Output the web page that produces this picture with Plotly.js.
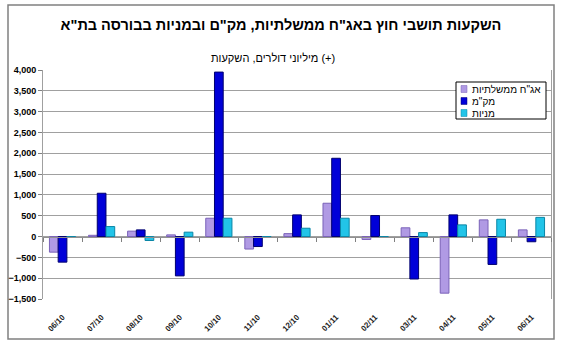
<!DOCTYPE html>
<html>
<head>
<meta charset="utf-8">
<script src="https://cdn.plot.ly/plotly-3.0.1.min.js"></script>
<style>html,body{margin:0;padding:0;background:#fff;}#chart{width:563px;height:357px;}</style>
</head>
<body>
<div id="chart"></div>
<script>
var categories = ['06/10','07/10','08/10','09/10','10/10','11/10','12/10','01/11','02/11','03/11','04/11','05/11','06/11'];
var govBonds = [-375, 30, 130, 40, 440, -300, 70, 800, -70, 210, -1360, 400, 160];
var makam = [-615, 1040, 160, -945, 3950, -240, 520, 1880, 505, -1020, 520, -670, -125];
var stocks = [-20, 240, -95, 105, 440, -15, 200, 440, -10, 95, 280, 415, 460];
var seriesNames = ['אג"ח ממשלתיות', 'מק"מ', 'מניות'];
var seriesColors = ['#B09AE4', '#0000D8', '#22C4E8'];
var seriesEdges = ['#7A62B8', '#00006E', '#0A86A6'];
var yTickVals = [-1500,-1000,-500,0,500,1000,1500,2000,2500,3000,3500,4000];

var W = 563, H = 357, L = 43, R = 12, T = 70, B = 58;
var pw = W - L - R, ph = H - T - B;
function px(x){ return (x - L) / pw; }
function py(y){ return (H - B - y) / ph; }

var FONT = 'Arial, "Liberation Sans", sans-serif';
var series = [govBonds, makam, stocks];
var traces = series.map(function(vals, i){
  return {
    type: 'bar', x: categories, y: vals, name: seriesNames[i],
    marker: {color: seriesColors[i], line: {color: seriesEdges[i], width: 1}},
    showlegend: false, hoverinfo: 'x+y+name'
  };
});
traces.push({type: 'scatter', mode: 'markers', x: categories, y: categories.map(function(){return null;}),
  xaxis: 'x2', yaxis: 'y', showlegend: false, hoverinfo: 'skip'});

var shapes = [{type: 'rect', xref: 'paper', yref: 'paper', x0: px(8), x1: px(554), y0: py(339), y1: py(5),
  line: {color: '#808080', width: 1.5}, layer: 'below'}];
var annotations = [{xref: 'paper', yref: 'paper', x: px(273), y: py(58),
  text: 'מיליוני דולרים, השקעות (+)',
  showarrow: false, xanchor: 'center', yanchor: 'middle', font: {family: FONT, size: 11, color: '#000'}}];

// legend box
var lx0 = 456, lx1 = 546, ly0 = 82, ly1 = 119;
shapes.push({type: 'rect', xref: 'paper', yref: 'paper', x0: px(lx0), x1: px(lx1), y0: py(ly1), y1: py(ly0),
  fillcolor: '#fff', line: {color: '#000', width: 1}});
seriesNames.forEach(function(n, i){
  var cy = 89 + i * 12;
  shapes.push({type: 'rect', xref: 'paper', yref: 'paper', x0: px(461), x1: px(467), y0: py(cy + 3.5), y1: py(cy - 3.5),
    fillcolor: seriesColors[i], line: {color: seriesEdges[i], width: 0.5}});
  annotations.push({xref: 'paper', yref: 'paper', x: px(470), y: py(cy), text: n, showarrow: false,
    xanchor: 'left', yanchor: 'middle', font: {family: FONT, size: 10, color: '#000'}});
});

var layout = {
  width: W, height: H,
  margin: {l: L, r: R, t: T, b: B, pad: 0},
  paper_bgcolor: '#fff', plot_bgcolor: '#fff',
  font: {family: FONT, color: '#000'},
  title: {text: '<b>השקעות תושבי חוץ באג"ח ממשלתיות, מק"ם ובמניות בבורסה בת"א</b>',
    x: 281 / W, y: 1 - 25 / H, xanchor: 'center', yanchor: 'middle',
    font: {family: FONT, size: 14.5, color: '#000'}},
  barmode: 'group', bargap: 0.33, bargroupgap: 0,
  showlegend: false,
  xaxis: {type: 'category', categoryarray: categories, range: [-0.5, categories.length - 0.5],
    tickangle: -45, ticks: '', showgrid: false, zeroline: false, showline: false,
    ticklabelstandoff: 11,
    tickfont: {family: FONT, size: 8, color: '#222', weight: 'bold'}},
  xaxis2: {type: 'category', categoryarray: categories, overlaying: 'x', anchor: 'free', position: 1500 / 5500,
    range: [-0.5, categories.length - 0.5], showticklabels: false, ticks: 'outside', tickson: 'boundaries',
    ticklen: 4, tickcolor: '#808080', tickwidth: 1, showline: true, linecolor: '#909090', linewidth: 1, showgrid: false},
  yaxis: {range: [-1500, 4000], tickvals: yTickVals, tickformat: ',d', ticks: 'outside', ticklen: 4,
    tickcolor: '#808080', showline: true, mirror: true, linecolor: '#a0a0a0', linewidth: 1,
    showgrid: true, gridcolor: '#a0a0a0', gridwidth: 1, zeroline: false,
    tickfont: {family: FONT, size: 9, color: '#000', weight: 'bold'}},
  shapes: shapes,
  annotations: annotations
};

Plotly.newPlot('chart', traces, layout, {displayModeBar: false, staticPlot: true});
</script>
</body>
</html>
